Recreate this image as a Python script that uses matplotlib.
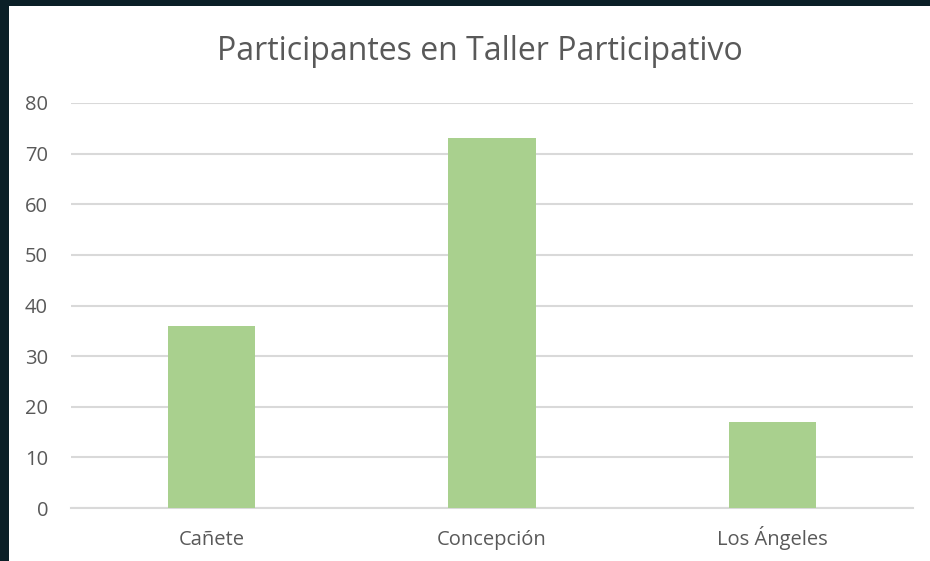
import matplotlib
matplotlib.use("Agg")
import matplotlib.pyplot as plt
from matplotlib.patches import Rectangle

# 数据
categorias = ["Cañete", "Concepción", "Los Ángeles"]
participantes = [36, 73, 17]
y_ticks = [0, 10, 20, 30, 40, 50, 60, 70, 80]

plt.rcParams['font.family'] = ['Open Sans', 'DejaVu Sans']

fig = plt.figure(figsize=(9.3, 5.61), dpi=100, facecolor="#0b1f27")
# 白色图表区域
fig.patches.append(Rectangle((9 / 930, 0), 1, 1 - 6 / 561, transform=fig.transFigure,
                             facecolor="white", edgecolor="none", zorder=-10))

ax = fig.add_axes([71 / 930, 1 - 508 / 561, (913 - 71) / 930, (508 - 103) / 561])
ax.set_facecolor("none")
ax.set_zorder(5)

x = range(len(categorias))
ax.bar(x, participantes, width=0.31, color="#a9d08e", zorder=3)

ax.set_xlim(-0.5, len(categorias) - 0.5)
ax.set_ylim(0, 80)
ax.set_yticks(y_ticks)
ax.set_xticks(list(x))
ax.set_xticklabels(categorias, va="baseline")

ax.grid(axis="y", color="#d9d9d9", linewidth=1.5, zorder=0)
for s in ["top", "right", "left"]:
    ax.spines[s].set_visible(False)
ax.spines["bottom"].set_color("#d9d9d9")
ax.spines["bottom"].set_linewidth(1.5)
ax.tick_params(axis="both", length=0, colors="#595959", labelsize=14.5)
ax.tick_params(axis="y", pad=16.5)
ax.tick_params(axis="x", pad=26.5)

fig.text(0.5156, 1 - 51 / 561, "Participantes en Taller Participativo",
         ha="center", va="center", fontsize=23, color="#595959")

fig.savefig("out.png", dpi=100, facecolor=fig.get_facecolor())
